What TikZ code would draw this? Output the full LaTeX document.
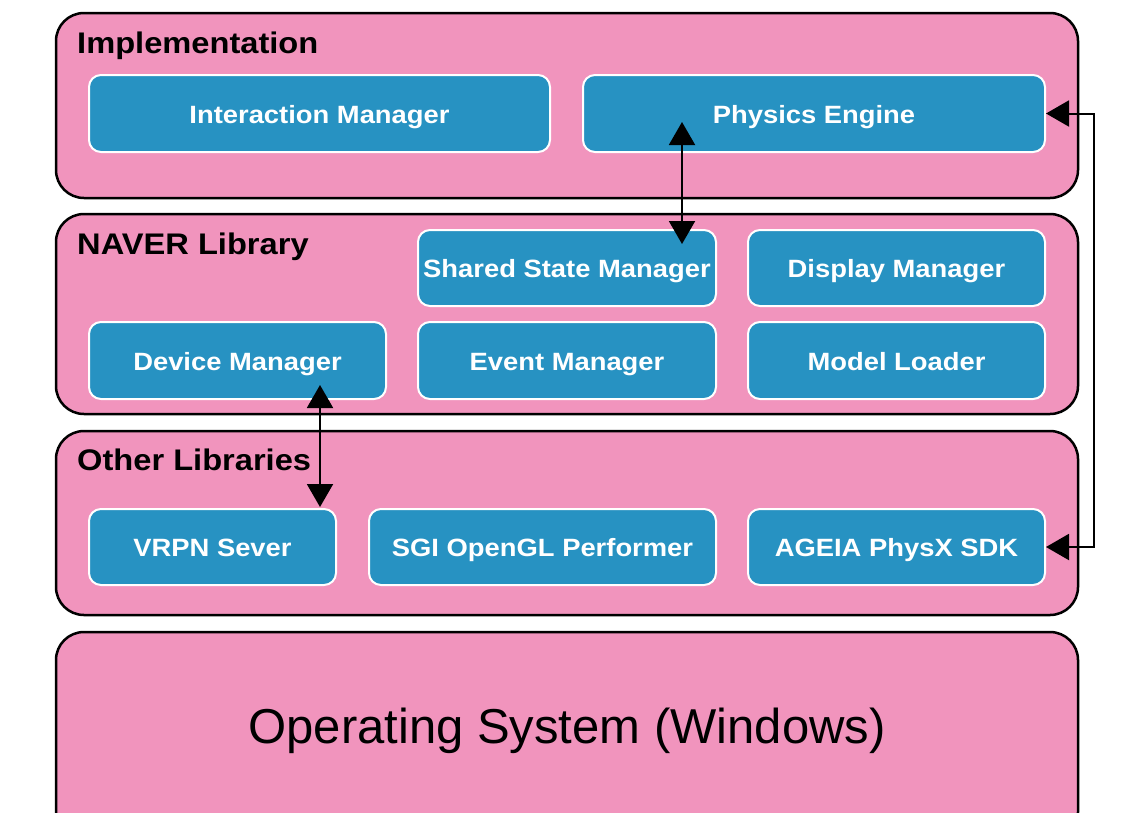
\documentclass[tikz,border=0pt]{standalone}
\usepackage{fontspec}
\setmainfont{Liberation Sans}
\newfontfamily\widefont[FakeStretch=1.095]{Liberation Sans}
\usetikzlibrary{arrows.meta}
\definecolor{layerpink}{HTML}{F194BD}
\definecolor{boxblue}{HTML}{2792C2}
\tikzset{
  layer/.style={draw=black, line width=2.5pt, fill=layerpink, rounded corners=28pt},
  blk/.style={draw=white, line width=2pt, fill=boxblue, rounded corners=12pt, text=white,
    font=\widefont\fontsize{25}{30}\selectfont\bfseries, inner sep=0pt,
    text height=19pt, text depth=0pt},
  ttl/.style={anchor=base west, font=\widefont\fontsize{29.8}{36}\selectfont\bfseries, inner sep=0pt},
  link/.style={line width=2pt, {Triangle[length=23pt,width=26pt]}-{Triangle[length=23pt,width=26pt]}}
}
\begin{document}
\begin{tikzpicture}[x=1pt,y=-1pt]
\useasboundingbox (0,0) rectangle (1140,812);
\begin{scope}
\clip (0,0) rectangle (1140,812);
% layers
\draw[layer] (56,13) rectangle (1078,198);
\draw[layer] (56,214) rectangle (1078,414);
\draw[layer] (56,431) rectangle (1078,615);
\draw[layer] (56,632) rectangle (1078,840);
\end{scope}
\node[ttl] (timpl) at (77,53) {Implementation};
\node[ttl] (tnaver) at (77,254) {NAVER Library};
\node[ttl] (tother) at (77,470) {Other Libraries};
\node[anchor=base, inner sep=0pt] (os) at (567,743) {\fontsize{49}{58}\selectfont Operating System (Windows)};
% boxes
\node[blk, minimum width=461pt, minimum height=77pt] (im) at (319.5,113.5) {Interaction Manager};
\node[blk, minimum width=462pt, minimum height=77pt] (pe) at (814,113.5) {Physics Engine};
\node[blk, minimum width=298pt, minimum height=76pt] (ssm) at (567,268) {Shared State Manager};
\node[blk, minimum width=297pt, minimum height=76pt] (dm) at (896.5,268) {Display Manager};
\node[blk, minimum width=297pt, minimum height=77pt] (dev) at (237.5,360.5) {Device Manager};
\node[blk, minimum width=298pt, minimum height=77pt] (em) at (567,360.5) {Event Manager};
\node[blk, minimum width=297pt, minimum height=77pt] (ml) at (896.5,360.5) {Model Loader};
\node[blk, minimum width=247pt, minimum height=76pt] (vrpn) at (212.5,547) {VRPN Sever};
\node[blk, minimum width=347pt, minimum height=76pt] (sgi) at (542.5,547) {SGI OpenGL Performer};
\node[blk, minimum width=297pt, minimum height=76pt] (ageia) at (896.5,547) {AGEIA PhysX SDK};
% connectors
\coordinate (peIn) at (682,122);
\coordinate (ssmIn) at (682,244);
\coordinate (devIn) at (320,385);
\coordinate (vrpnIn) at (320,507);
\draw[link] (peIn) -- (ssmIn);
\draw[link] (devIn) -- (vrpnIn);
\draw[link] (pe.east) -- ++(48,0) |- (ageia.east);
\end{tikzpicture}
\end{document}
